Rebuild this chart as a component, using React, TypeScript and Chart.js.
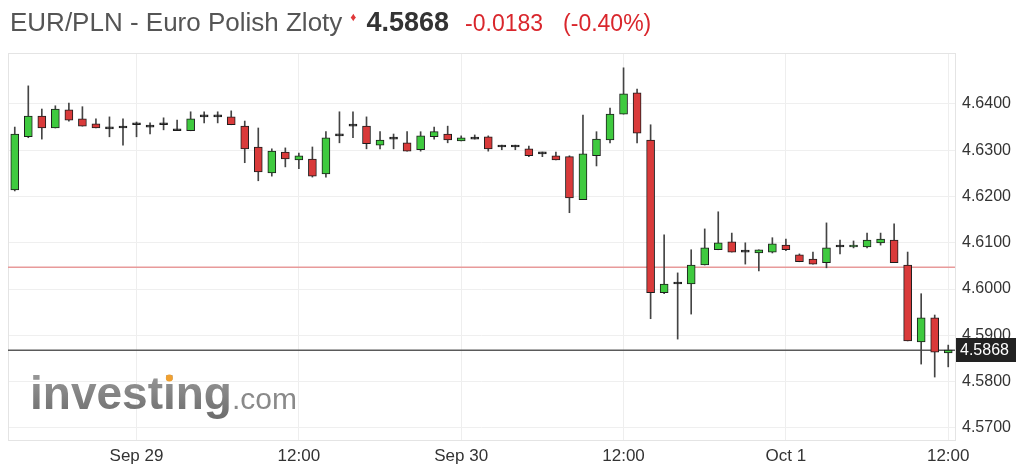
import React, { useEffect, useRef } from 'react';
import { Chart, registerables } from 'chart.js';

Chart.register(...registerables);

// Hourly candles, index 0 = Sep 28 15:00 ... index 69 = Oct 1 12:00
const opens = [
  4.6214, 4.6329, 4.6374, 4.6348, 4.6387, 4.6368, 4.6357, 4.6346, 4.6348, 4.6355,
  4.6350, 4.6355, 4.6342, 4.6342, 4.6372, 4.6372, 4.6372, 4.6352, 4.6307, 4.6251,
  4.6296, 4.6279, 4.6281, 4.6249, 4.6331, 4.6352, 4.6352, 4.6311, 4.6324, 4.6316,
  4.6301, 4.6329, 4.6335, 4.6320, 4.6324, 4.6329, 4.6307, 4.6307, 4.6303, 4.6292,
  4.6288, 4.6286, 4.6193, 4.6288, 4.6322, 4.6378, 4.6424, 4.6322, 4.5992, 4.6011,
  4.6011, 4.6052, 4.6085, 4.6102, 4.6080, 4.6078, 4.6080, 4.6095, 4.6074, 4.6065,
  4.6057, 4.6091, 4.6091, 4.6091, 4.6100, 4.6106, 4.6052, 4.5886, 4.5938, 4.5862,
];
const highs = [
  4.6350, 4.6439, 4.6389, 4.6396, 4.6402, 4.6394, 4.6368, 4.6372, 4.6368, 4.6361,
  4.6359, 4.6370, 4.6365, 4.6383, 4.6383, 4.6383, 4.6385, 4.6363, 4.6348, 4.6303,
  4.6305, 4.6294, 4.6307, 4.6340, 4.6383, 4.6383, 4.6372, 4.6340, 4.6335, 4.6340,
  4.6340, 4.6350, 4.6352, 4.6331, 4.6333, 4.6331, 4.6311, 4.6311, 4.6309, 4.6296,
  4.6296, 4.6288, 4.6376, 4.6340, 4.6391, 4.6478, 4.6432, 4.6355, 4.6117, 4.6035,
  4.6085, 4.6130, 4.6167, 4.6121, 4.6100, 4.6085, 4.6111, 4.6108, 4.6076, 4.6080,
  4.6143, 4.6106, 4.6104, 4.6121, 4.6121, 4.6141, 4.6080, 4.5990, 4.5944, 4.5879,
];
const lows = [
  4.6212, 4.6327, 4.6324, 4.6348, 4.6363, 4.6352, 4.6348, 4.6329, 4.6311, 4.6329,
  4.6335, 4.6344, 4.6342, 4.6342, 4.6359, 4.6359, 4.6355, 4.6273, 4.6234, 4.6244,
  4.6264, 4.6260, 4.6242, 4.6242, 4.6316, 4.6327, 4.6303, 4.6303, 4.6303, 4.6298,
  4.6298, 4.6324, 4.6316, 4.6320, 4.6324, 4.6298, 4.6301, 4.6301, 4.6286, 4.6286,
  4.6279, 4.6165, 4.6193, 4.6266, 4.6316, 4.6378, 4.6316, 4.5936, 4.5990, 4.5892,
  4.5946, 4.6052, 4.6085, 4.6080, 4.6054, 4.6039, 4.6078, 4.6083, 4.6059, 4.6054,
  4.6046, 4.6076, 4.6089, 4.6089, 4.6095, 4.6057, 4.5888, 4.5838, 4.5810, 4.5832,
];
const closes = [
  4.6335, 4.6374, 4.6348, 4.6389, 4.6365, 4.6352, 4.6348, 4.6346, 4.6348, 4.6355,
  4.6350, 4.6355, 4.6342, 4.6368, 4.6372, 4.6372, 4.6355, 4.6303, 4.6253, 4.6298,
  4.6281, 4.6288, 4.6244, 4.6327, 4.6331, 4.6352, 4.6314, 4.6322, 4.6324, 4.6298,
  4.6331, 4.6340, 4.6322, 4.6327, 4.6324, 4.6303, 4.6307, 4.6307, 4.6288, 4.6292,
  4.6279, 4.6197, 4.6292, 4.6324, 4.6378, 4.6422, 4.6337, 4.5992, 4.6011, 4.6011,
  4.6052, 4.6089, 4.6100, 4.6080, 4.6080, 4.6085, 4.6098, 4.6085, 4.6059, 4.6054,
  4.6089, 4.6091, 4.6095, 4.6106, 4.6108, 4.6057, 4.5888, 4.5938, 4.5864, 4.5868,
];

const xTickIndices = [9, 21, 33, 45, 57, 69];
const xTickLabels = ['Sep 29', '12:00', 'Sep 30', '12:00', 'Oct 1', '12:00'];
const yTickValues = [4.57, 4.58, 4.59, 4.6, 4.61, 4.62, 4.63, 4.64];

const lastPrice = 4.5868;
const prevClose = 4.6047;
const titleText = 'EUR/PLN - Euro Polish Zloty';
const priceText = '4.5868';
const changeText = '-0.0183';
const changePctText = '(-0.40%)';

const FONT = '"Liberation Sans", Arial, sans-serif';

export default function App() {
  const canvasRef = useRef<HTMLCanvasElement>(null);

  useEffect(() => {
    const idx = opens.map((_, i) => i);
    const GREEN = '#3fca3f';
    const RED = '#d93a3a';
    const DOJI = '#222222';
    const bodyColors = idx.map((i) =>
      closes[i] > opens[i] ? GREEN : closes[i] < opens[i] ? RED : DOJI
    );

    const overlay = {
      id: 'overlay',
      beforeDatasetsDraw(chart: any) {
        const { ctx, chartArea } = chart;
        ctx.save();
        ctx.strokeStyle = '#e4e4e4';
        ctx.lineWidth = 1;
        ctx.strokeRect(chartArea.left + 0.5, chartArea.top + 0.5, chartArea.right - chartArea.left, chartArea.bottom - chartArea.top);
        // watermark
        const baseX = 30;
        const baseY = 409;
        ctx.font = `bold 46px ${FONT}`;
        ctx.textBaseline = 'alphabetic';
        ctx.textAlign = 'left';
        const g = ctx.createLinearGradient(0, 372, 0, 420);
        g.addColorStop(0, '#9a9a9a');
        g.addColorStop(1, '#6a6a6a');
        ctx.fillStyle = g;
        ctx.fillText('investing', baseX, baseY);
        const w = ctx.measureText('investing').width;
        const w2 = ctx.measureText('invest').width;
        const wi = ctx.measureText('i').width;
        ctx.font = `30px ${FONT}`;
        ctx.fillStyle = '#8a8a8a';
        ctx.fillText('.com', baseX + w, baseY);
        ctx.fillStyle = '#f0a030';
        ctx.beginPath();
        ctx.arc(baseX + w2 + wi / 2, baseY - 31, 3.5, 0, Math.PI * 2);
        ctx.fill();
        ctx.restore();
      },
      afterDraw(chart: any) {
        const { ctx, chartArea } = chart;
        const y = chart.scales.y.getPixelForValue(lastPrice);
        ctx.save();
        ctx.fillStyle = '#222222';
        ctx.fillRect(chartArea.right + 1, Math.round(y) - 12, 60, 24);
        ctx.fillStyle = '#ffffff';
        ctx.font = `16px ${FONT}`;
        ctx.textBaseline = 'middle';
        ctx.textAlign = 'left';
        ctx.fillText(priceText, chartArea.right + 5, Math.round(y) + 1);
        ctx.restore();
      },
    };

    const chart = new Chart(canvasRef.current as HTMLCanvasElement, {
      type: 'bar',
      data: {
        datasets: [
          {
            type: 'line',
            data: [
              { x: -0.5, y: prevClose },
              { x: 69.5, y: prevClose },
            ],
            borderColor: '#e89a9a',
            borderWidth: 1.5,
            pointRadius: 0,
            order: 4,
          } as any,
          {
            type: 'line',
            data: [
              { x: -0.5, y: lastPrice },
              { x: 69.5, y: lastPrice },
            ],
            borderColor: '#5a5a5a',
            borderWidth: 1.5,
            pointRadius: 0,
            order: 3,
          } as any,
          {
            type: 'bar',
            data: idx.map((i) => ({ x: i, y: [lows[i], highs[i]] })),
            backgroundColor: '#444444',
            barThickness: 1,
            grouped: false,
            order: 2,
          } as any,
          {
            type: 'bar',
            data: idx.map((i) => ({
              x: i,
              y: [Math.min(opens[i], closes[i]), Math.max(opens[i], closes[i])],
            })),
            backgroundColor: bodyColors,
            borderColor: '#1d1d1d',
            borderWidth: 1,
            borderSkipped: false,
            barThickness: 8,
            minBarLength: 2,
            grouped: false,
            order: 1,
          } as any,
        ],
      },
      options: {
        animation: false,
        responsive: false,
        maintainAspectRatio: false,
        layout: { padding: { left: 8, top: 53, right: 0, bottom: 0 } },
        plugins: {
          legend: { display: false },
          tooltip: { enabled: false },
          title: { display: false },
        },
        scales: {
          x: {
            type: 'linear',
            min: -0.5,
            max: 69.5,
            offset: false,
            afterBuildTicks: (s: any) => {
              s.ticks = xTickIndices.map((v) => ({ value: v }));
            },
            afterFit: (s: any) => {
              s.height = 30;
            },
            ticks: {
              autoSkip: false,
              maxRotation: 0,
              padding: 6,
              color: '#333333',
              font: { family: FONT, size: 17 },
              callback: (v: any) => {
                const k = xTickIndices.indexOf(Number(v));
                return k >= 0 ? xTickLabels[k] : '';
              },
            },
            grid: { color: '#eeeeee', drawTicks: false, offset: false },
            border: { display: true, color: '#e4e4e4' },
          },
          y: {
            position: 'right',
            min: 4.5674,
            max: 4.651,
            afterBuildTicks: (s: any) => {
              s.ticks = yTickValues.map((v) => ({ value: v }));
            },
            afterFit: (s: any) => {
              s.width = 69;
            },
            ticks: {
              padding: 7,
              color: '#333333',
              font: { family: FONT, size: 16 },
              callback: (v: any) => Number(v).toFixed(4),
            },
            grid: { color: '#efefef', drawTicks: false },
            border: { display: true, color: '#e4e4e4' },
          },
        },
      } as any,
      plugins: [overlay],
    });
    return () => chart.destroy();
  }, []);

  return (
    <div
      style={{
        position: 'fixed',
        left: 0,
        top: 0,
        width: 1024,
        height: 470,
        background: '#ffffff',
        overflow: 'hidden',
      }}
    >
      <canvas
        ref={canvasRef}
        width={1024}
        height={470}
        style={{ position: 'absolute', left: 0, top: 0, width: 1024, height: 470 }}
      />
      <div
        style={{
          position: 'absolute',
          left: 10,
          top: 2,
          height: 40,
          lineHeight: '40px',
          fontFamily: FONT,
          fontSize: 26,
          whiteSpace: 'nowrap',
        }}
      >
        <span style={{ color: '#555555', fontSize: 26 }}>{titleText}</span>
        <span
          style={{
            color: '#e0383a',
            fontSize: 12,
            position: 'relative',
            top: -10,
            marginLeft: 8,
            marginRight: 10,
          }}
        >
          ♦
        </span>
        <span style={{ color: '#333333', fontSize: 27, fontWeight: 'bold' }}>{priceText}</span>
        <span style={{ color: '#d9262c', fontSize: 23, marginLeft: 16 }}>{changeText}</span>
        <span style={{ color: '#d9262c', fontSize: 23, marginLeft: 20 }}>{changePctText}</span>
      </div>
    </div>
  );
}
